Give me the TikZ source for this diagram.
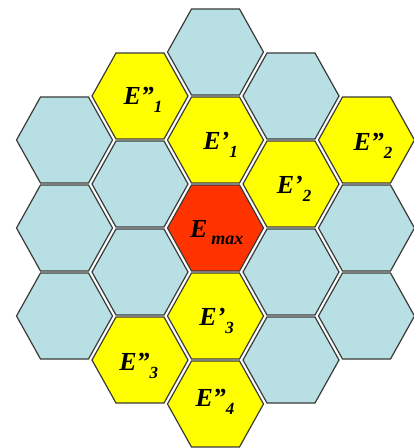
\documentclass[tikz,border=0pt]{standalone}
\usepackage{fontspec}
\setmainfont{Liberation Serif}
\usepackage{xcolor}

\definecolor{cellblue}{HTML}{B8DFE3}
\definecolor{cellyellow}{HTML}{FFFF00}
\definecolor{cellred}{HTML}{FF3300}
\definecolor{cellline}{HTML}{3A3A3A}

\newcommand{\lowsub}[1]{\raisebox{-8pt}{\fontsize{17}{17}\selectfont #1}}

\begin{document}
\begin{tikzpicture}[x=1pt, y=-1pt,
    hexcell/.style={draw=cellline, line width=1.2pt, line join=miter},
    hexlabel/.style={font=\fontsize{26}{30}\selectfont\bfseries\itshape, inner sep=0pt, anchor=base}]
        \useasboundingbox (0,0) rectangle (414,448);
        % Cells (x / y / fill)
        \foreach \cx/\cy/\cc in {64.5/140/cellblue, 64.5/228/cellblue, 64.5/316/cellblue,
                140/96/cellyellow, 140/184/cellblue, 140/272/cellblue, 140/360/cellyellow,
                215.5/52/cellblue, 215.5/140/cellyellow, 215.5/228/cellred, 215.5/316/cellyellow, 215.5/404/cellyellow,
                291/96/cellblue, 291/184/cellyellow, 291/272/cellblue, 291/360/cellblue,
                366.5/140/cellyellow, 366.5/228/cellblue, 366.5/316/cellblue}
            \filldraw[hexcell, fill=\cc] (\cx,\cy) ++(-48,0) -- ++(24,-43) -- ++(48,0) -- ++(24,43) -- ++(-24,43) -- ++(-48,0) -- cycle;
        % Centre cell
        \node[hexlabel] (emax) at (216.7,237.3) {E\kern4pt\raisebox{-7pt}{\fontsize{18}{18}\selectfont max}};
        % First ring
        \node[hexlabel] (ep1) at (220.5,149) {E’\lowsub{1}};
        \node[hexlabel] (ep2) at (294,193) {E’\lowsub{2}};
        \node[hexlabel] (ep3) at (216.7,325.7) {E’\lowsub{3}};
        % Second ring
        \node[hexlabel] (epp1) at (143,104) {E”\lowsub{1}};
        \node[hexlabel] (epp2) at (373,150) {E”\lowsub{2}};
        \node[hexlabel] (epp3) at (138.7,370.7) {E”\lowsub{3}};
        \node[hexlabel] (epp4) at (215,406.7) {E”\lowsub{4}};
    \end{tikzpicture}
\end{document}
